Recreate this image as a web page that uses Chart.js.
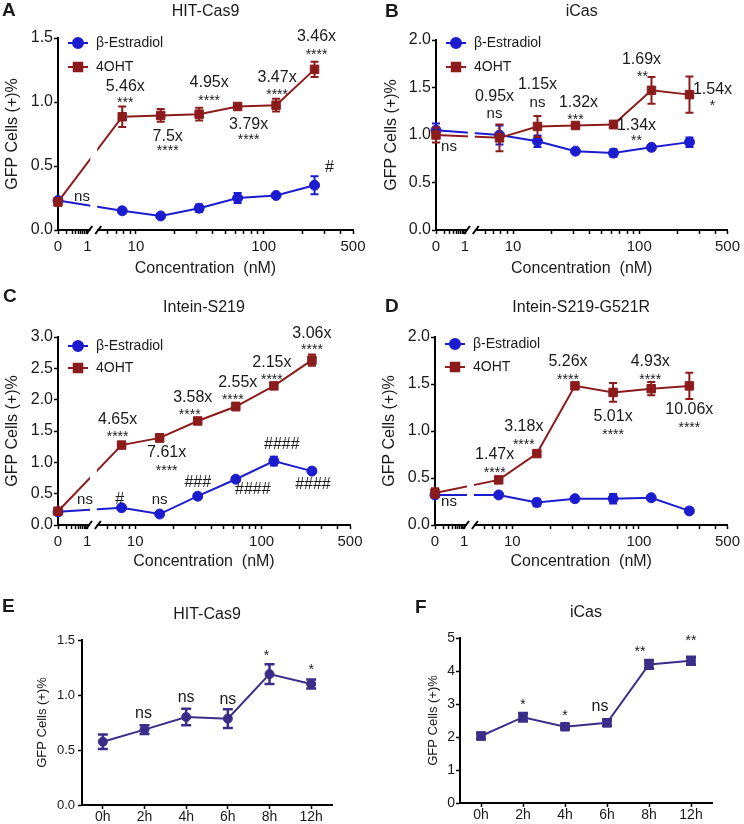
<!DOCTYPE html>
<html>
<head>
<meta charset="utf-8">
<script src="https://cdn.jsdelivr.net/npm/chart.js@4.4.0/dist/chart.umd.min.js"></script>
<style>
  html, body { margin: 0; padding: 0; background: #fff; }
  #page { position: relative; width: 744px; height: 824px; overflow: hidden; }
  canvas { position: absolute; }
</style>
</head>
<body>
<div id="page">
  <canvas id="chartA" width="372" height="280" style="left:0;top:0"></canvas>
  <canvas id="chartB" width="372" height="280" style="left:372px;top:0"></canvas>
  <canvas id="chartC" width="372" height="295" style="left:0;top:280px"></canvas>
  <canvas id="chartD" width="372" height="295" style="left:372px;top:280px"></canvas>
  <canvas id="chartE" width="372" height="249" style="left:0;top:575px"></canvas>
  <canvas id="chartF" width="372" height="249" style="left:372px;top:575px"></canvas>
</div>
<script>
// ---- data ----
var concentrations = [0, 7.8125, 15.625, 31.25, 62.5, 125, 250];
var timePoints = ['0h', '2h', '4h', '6h', '8h', '12h'];

var hitCas9Estradiol = [0.23, 0.15, 0.11, 0.17, 0.25, 0.27, 0.35];
var hitCas9EstradiolErr = [0.02, 0.01, 0.01, 0.03, 0.04, 0.01, 0.07];
var hitCas9OHT = [0.22, 0.885, 0.895, 0.905, 0.965, 0.975, 1.255];
var hitCas9OHTErr = [0.03, 0.08, 0.05, 0.05, 0.01, 0.05, 0.06];

var iCasEstradiol = [1.05, 1.00, 0.935, 0.83, 0.81, 0.87, 0.925];
var iCasEstradiolErr = [0.07, 0.10, 0.06, 0.02, 0.04, 0.01, 0.05];
var iCasOHT = [1.00, 0.97, 1.09, 1.10, 1.11, 1.47, 1.425];
var iCasOHTErr = [0.08, 0.14, 0.11, 0.01, 0.04, 0.14, 0.19];

var s219Estradiol = [0.21, 0.275, 0.175, 0.46, 0.73, 1.02, 0.86];
var s219EstradiolErr = [0.01, 0.01, 0.01, 0.02, 0.02, 0.07, 0.02];
var s219OHT = [0.22, 1.275, 1.39, 1.66, 1.89, 2.22, 2.63];
var s219OHTErr = [0.02, 0.02, 0.06, 0.02, 0.06, 0.04, 0.09];

var g521rEstradiol = [0.32, 0.32, 0.24, 0.28, 0.28, 0.29, 0.15];
var g521rEstradiolErr = [0.01, 0.01, 0.04, 0.01, 0.05, 0.01, 0.01];
var g521rOHT = [0.34, 0.48, 0.76, 1.48, 1.41, 1.45, 1.48];
var g521rOHTErr = [0.05, 0.01, 0.01, 0.01, 0.10, 0.07, 0.14];

var hitCas9Time = [0.575, 0.685, 0.80, 0.785, 1.19, 1.10];
var hitCas9TimeErr = [0.065, 0.04, 0.075, 0.085, 0.09, 0.04];
var iCasTime = [2.03, 2.60, 2.31, 2.43, 4.20, 4.31];
var iCasTimeErr = [0.10, 0.13, 0.05, 0.10, 0.13, 0.12];

// tick labels of the broken concentration axis
var concTickValues = [0, 0.2, 0.3, 0.4, 0.5, 0.6, 0.7, 0.8, 0.9, 1, 6, 7, 8, 9, 10,
  20, 30, 40, 50, 60, 70, 80, 90, 100, 200, 300, 400, 500];
var concTickLabels = { 0: '0', 1: '1', 10: '10', 100: '100', 500: '500' };

// significance labels: [x, pixel shift, y, text]
var notesA = [
  [0, 24, 0.26, 'ns'],
  [7.8125, 3, 1.117, '5.46x'], [7.8125, 3, 1.016, '***'],
  [15.625, 7, 0.727, '7.5x'], [15.625, 7, 0.64, '****'],
  [31.25, 10, 1.148, '4.95x'], [31.25, 10, 1.03, '****'],
  [62.5, 11, 0.82, '3.79x'], [62.5, 11, 0.727, '****'],
  [125, 1, 1.19, '3.47x'], [125, 1, 1.078, '****'],
  [250, 2, 1.508, '3.46x'], [250, 2, 1.39, '****'],
  [250, 15, 0.49, '#']
];
var notesB = [
  [0, 13, 0.874, 'ns'],
  [7.8125, -5, 1.40, '0.95x'], [7.8125, -5, 1.22, 'ns'],
  [15.625, 0, 1.526, '1.15x'], [15.625, 0, 1.337, 'ns'],
  [31.25, 3, 1.337, '1.32x'], [31.25, 0, 1.19, '***'],
  [62.5, 23, 1.095, '1.34x'], [62.5, 23, 0.968, '**'],
  [125, -10, 1.79, '1.69x'], [125, -9, 1.642, '**'],
  [250, 23, 1.474, '1.54x'], [250, 23, 1.337, '*']
];
var notesC = [
  [0, 27, 0.40, 'ns'], [7.8125, -2, 0.40, '#'], [15.625, 0, 0.40, 'ns'],
  [7.8125, -4, 1.675, '4.65x'], [7.8125, -4, 1.45, '****'],
  [15.625, 7, 1.149, '7.61x'], [15.625, 7, 0.91, '****'],
  [31.25, -5, 2.04, '3.58x'], [31.25, -8, 1.80, '****'],
  [31.25, 0, 0.67, '###'],
  [62.5, 2, 2.28, '2.55x'], [62.5, -3, 2.04, '****'],
  [62.5, 17, 0.56, '####'],
  [125, -2, 2.585, '2.15x'], [125, -2, 2.36, '****'],
  [125, 8, 1.277, '####'],
  [250, 0, 3.06, '3.06x'], [250, 0, 2.84, '****'],
  [250, 1, 0.64, '####']
];
var notesD = [
  [0, 14, 0.245, 'ns'],
  [7.8125, -4, 0.745, '1.47x'], [7.8125, -4, 0.585, '****'],
  [15.625, -13, 1.043, '3.18x'], [15.625, -13, 0.883, '****'],
  [31.25, -7, 1.734, '5.26x'], [31.25, -7, 1.574, '****'],
  [62.5, 0, 1.149, '5.01x'], [62.5, 0, 0.989, '****'],
  [125, -1, 1.734, '4.93x'], [125, -1, 1.574, '****'],
  [250, 0, 1.223, '10.06x'], [250, 0, 1.064, '****']
];
var notesE = [[1, -1, 0.827, 'ns'], [2, 0, 0.98, 'ns'], [3, 0, 0.955, 'ns'], [4, -3, 1.38, '*'], [5, 0, 1.255, '*']];
var notesF = [[1, 0, 3.06, '*'], [2, 0, 2.73, '*'], [3, -7, 2.91, 'ns'], [4, -9, 4.67, '**'], [5, 0, 5.0, '**']];

// ---- look ----
var FONT = '"Liberation Sans", Arial, Helvetica, sans-serif';
var INK = '#1a1a1a';
var BLUE = '#1c1ccf';
var RED = '#8c1c1c';
var INDIGO = '#3a2e88';
Chart.defaults.font.family = FONT;
Chart.defaults.color = INK;

// broken axis: 0..1 squeezed at the left, then log10 from ~5 nM on
var SEG1_END = 0.23, BREAK_A = 0.245, BREAK_B = 0.315, LOG_SHIFT = 0.39;
function concToAxis(c) {
  if (c <= 0) return 0;
  if (c <= 1) return SEG1_END * (1 + Math.log10(c));
  return Math.log10(c) - LOG_SHIFT;
}

function noteFont(text, nsSize) {
  if (/^\*+$/.test(text)) return { size: 14, dy: 3 };
  if (text === 'ns') return { size: nsSize, dy: 0 };
  return { size: 16, dy: 0 };
}

var panelDecor = {
  id: 'panelDecor',
  afterDatasetDraw: function(chart, args, opts) {
    var ds = chart.data.datasets[args.index];
    if (!ds.errors) return;
    var ctx = chart.ctx, ys = chart.scales.y, cap = opts.cap || 4;
    ctx.save();
    ctx.strokeStyle = ds.borderColor;
    ctx.lineWidth = opts.errWidth || 2;
    args.meta.data.forEach(function(pt, i) {
      var raw = ds.data[i];
      var v = typeof raw === 'object' ? raw.y : raw;
      var top = ys.getPixelForValue(v + ds.errors[i]);
      var bot = ys.getPixelForValue(v - ds.errors[i]);
      ctx.beginPath();
      ctx.moveTo(pt.x, top); ctx.lineTo(pt.x, bot);
      ctx.moveTo(pt.x - cap, top); ctx.lineTo(pt.x + cap, top);
      ctx.moveTo(pt.x - cap, bot); ctx.lineTo(pt.x + cap, bot);
      ctx.stroke();
    });
    ctx.restore();
  },
  afterDatasetsDraw: function(chart, args, opts) {
    if (!opts.axisBreak) return;
    var ctx = chart.ctx, xs = chart.scales.x, area = chart.chartArea;
    var x1 = xs.getPixelForValue(BREAK_A), x2 = xs.getPixelForValue(BREAK_B);
    ctx.save();
    ctx.fillStyle = '#fff';
    ctx.fillRect(x1 + 1, area.top - 2, x2 - x1 - 2, area.bottom - area.top + 5);
    ctx.strokeStyle = '#000';
    ctx.lineWidth = 2;
    [x1, x2].forEach(function(x) {
      ctx.beginPath();
      ctx.moveTo(x - 3, area.bottom + 4);
      ctx.lineTo(x + 3, area.bottom - 4);
      ctx.stroke();
    });
    ctx.restore();
  },
  afterDraw: function(chart, args, opts) {
    var ctx = chart.ctx, area = chart.chartArea, xs = chart.scales.x, ys = chart.scales.y;
    ctx.save();
    ctx.fillStyle = INK;
    ctx.textBaseline = 'middle';
    // panel letter
    ctx.font = 'bold 19px ' + FONT;
    ctx.textAlign = 'left';
    ctx.fillText(opts.letter, opts.letterPos[0], opts.letterPos[1]);
    // panel title
    ctx.font = '16px ' + FONT;
    ctx.textAlign = 'center';
    ctx.fillText(opts.title, (area.left + area.right) / 2, opts.titleY);
    // legend
    if (opts.legendRows) {
      chart.data.datasets.forEach(function(ds, i) {
        var y = opts.legendRows[i], x0 = area.left + 10, x1 = area.left + 30;
        ctx.strokeStyle = ds.borderColor;
        ctx.fillStyle = ds.borderColor;
        ctx.lineWidth = 2;
        ctx.beginPath(); ctx.moveTo(x0, y); ctx.lineTo(x1, y); ctx.stroke();
        Chart.helpers.drawPoint(ctx, { pointStyle: ds.pointStyle, radius: ds.pointRadius, borderWidth: 1 }, (x0 + x1) / 2, y);
        ctx.fillStyle = INK;
        ctx.font = '14px ' + FONT;
        ctx.textAlign = 'left';
        ctx.fillText(ds.label, area.left + 38, y);
      });
    }
    // significance labels
    ctx.fillStyle = INK;
    ctx.textAlign = 'center';
    (opts.notes || []).forEach(function(n) {
      var f = noteFont(n[3], opts.nsSize || 15);
      ctx.font = f.size + 'px ' + FONT;
      ctx.fillText(n[3], xs.getPixelForValue(n[0]) + n[1], ys.getPixelForValue(n[2]) + f.dy);
    });
    ctx.restore();
  }
};

function axisStyle() {
  return {
    grid: { drawOnChartArea: false, drawTicks: true, tickLength: 4, tickWidth: 1.5, tickColor: '#000', color: '#000' },
    border: { display: true, color: '#000', width: 2 }
  };
}

function series(label, values, errors, color, pointStyle, radius, order) {
  return { label: label, values: values, errors: errors, color: color, pointStyle: pointStyle, radius: radius, order: order };
}

function concentrationChart(id, p) {
  var canvas = document.getElementById(id);
  var W = canvas.width, H = canvas.height, a = p.area;
  var xAxis = axisStyle(), yAxis = axisStyle();
  return new Chart(canvas, {
    type: 'line',
    data: {
      datasets: p.series.map(function(s) {
        return {
          label: s.label,
          data: concentrations.map(function(c, i) { return { x: concToAxis(c), y: s.values[i] }; }),
          errors: s.errors,
          borderColor: s.color, backgroundColor: s.color,
          pointBackgroundColor: s.color, pointBorderColor: s.color,
          borderWidth: 2, tension: 0,
          pointStyle: s.pointStyle, pointRadius: s.radius, pointHoverRadius: s.radius, pointBorderWidth: 1,
          order: s.order, clip: false
        };
      })
    },
    options: {
      responsive: false, devicePixelRatio: 1, animation: false, events: [],
      layout: { padding: { top: a.top, right: W - a.right, left: 0, bottom: 0 } },
      scales: {
        x: {
          type: 'linear', min: 0, max: concToAxis(500),
          afterFit: function(sc) { sc.height = H - a.bottom; },
          afterBuildTicks: function(sc) {
            sc.ticks = concTickValues.map(function(c) { return { value: concToAxis(c) }; });
          },
          ticks: {
            autoSkip: false, maxRotation: 0, padding: 4, color: INK, font: { size: 15 },
            callback: function(v, i) { return concTickLabels[concTickValues[i]] || ''; }
          },
          grid: xAxis.grid, border: xAxis.border,
          title: { display: true, text: 'Concentration  (nM)', color: INK, font: { size: 16 }, padding: { top: 0, bottom: p.xTitlePad } }
        },
        y: {
          min: 0, max: p.yMax,
          afterFit: function(sc) { sc.width = a.left; },
          ticks: { stepSize: p.yStep, padding: 1, color: INK, font: { size: 16 },
            callback: function(v) { return v.toFixed(1); } },
          grid: yAxis.grid, border: yAxis.border,
          title: { display: true, text: 'GFP Cells (+)%', color: INK, font: { size: 16 }, padding: { top: p.yTitlePad, bottom: 0 } }
        }
      },
      plugins: {
        legend: { display: false },
        tooltip: { enabled: false },
        panelDecor: {
          letter: p.letter, letterPos: p.letterPos, title: p.title, titleY: p.titleY,
          legendRows: p.legendRows, axisBreak: true, cap: 4, errWidth: 2, nsSize: 15,
          notes: p.notes.map(function(n) { return [concToAxis(n[0]), n[1], n[2], n[3]]; })
        }
      }
    },
    plugins: [panelDecor]
  });
}

function timeChart(id, p) {
  var canvas = document.getElementById(id);
  var W = canvas.width, H = canvas.height, a = p.area;
  var xAxis = axisStyle(), yAxis = axisStyle();
  return new Chart(canvas, {
    type: 'line',
    data: {
      labels: timePoints,
      datasets: [{
        label: p.title,
        data: p.values,
        errors: p.errors,
        borderColor: INDIGO, backgroundColor: INDIGO,
        pointBackgroundColor: INDIGO, pointBorderColor: INDIGO,
        borderWidth: 2, tension: 0,
        pointStyle: p.pointStyle, pointRadius: p.radius, pointHoverRadius: p.radius, pointBorderWidth: 1,
        clip: false
      }]
    },
    options: {
      responsive: false, devicePixelRatio: 1, animation: false, events: [],
      layout: { padding: { top: a.top, right: W - a.right, left: 0, bottom: 0 } },
      scales: {
        x: {
          type: 'category', offset: true,
          afterFit: function(sc) { sc.height = H - a.bottom; },
          ticks: { autoSkip: false, maxRotation: 0, padding: 0, color: INK, font: { size: 14 } },
          grid: Object.assign({}, xAxis.grid, { offset: false }), border: xAxis.border
        },
        y: {
          min: 0, max: p.yMax,
          afterFit: function(sc) { sc.width = a.left; },
          ticks: { stepSize: p.yStep, padding: p.yTickPad, color: INK, font: { size: p.yTickSize },
            callback: function(v) { return p.yDecimals ? v.toFixed(p.yDecimals) : String(v); } },
          grid: yAxis.grid, border: yAxis.border,
          title: { display: true, text: 'GFP Cells (+)%', color: INK, font: { size: 13 }, padding: { top: p.yTitlePad, bottom: 0 } }
        }
      },
      plugins: {
        legend: { display: false },
        tooltip: { enabled: false },
        panelDecor: {
          letter: p.letter, letterPos: p.letterPos, title: p.title, titleY: p.titleY,
          cap: 5, errWidth: 2.5, nsSize: 16, notes: p.notes
        }
      }
    },
    plugins: [panelDecor]
  });
}

concentrationChart('chartA', {
  letter: 'A', letterPos: [2, 11], title: 'HIT-Cas9', titleY: 12,
  area: { left: 58, right: 353, top: 38, bottom: 230 },
  yMax: 1.5, yStep: 0.5, yTitlePad: 3, xTitlePad: 2, legendRows: [43, 67],
  series: [
    series('β-Estradiol', hitCas9Estradiol, hitCas9EstradiolErr, BLUE, 'circle', 5, 1),
    series('4OHT', hitCas9OHT, hitCas9OHTErr, RED, 'rect', 6, 0)
  ],
  notes: notesA
});

concentrationChart('chartB', {
  letter: 'B', letterPos: [13, 12], title: 'iCas', titleY: 12,
  area: { left: 64, right: 358, top: 40, bottom: 230 },
  yMax: 2.0, yStep: 0.5, yTitlePad: 10, xTitlePad: 2, legendRows: [43, 67],
  series: [
    series('β-Estradiol', iCasEstradiol, iCasEstradiolErr, BLUE, 'circle', 5, 1),
    series('4OHT', iCasOHT, iCasOHTErr, RED, 'rect', 6, 0)
  ],
  notes: notesB
});

concentrationChart('chartC', {
  letter: 'C', letterPos: [3, 17], title: 'Intein-S219', titleY: 28,
  area: { left: 58, right: 350, top: 57, bottom: 245 },
  yMax: 3.0, yStep: 0.5, yTitlePad: 3, xTitlePad: 4, legendRows: [66, 88],
  series: [
    series('β-Estradiol', s219Estradiol, s219EstradiolErr, BLUE, 'circle', 5, 1),
    series('4OHT', s219OHT, s219OHTErr, RED, 'rect', 6, 0)
  ],
  notes: notesC
});

concentrationChart('chartD', {
  letter: 'D', letterPos: [13, 27], title: 'Intein-S219-G521R', titleY: 28,
  area: { left: 63, right: 358, top: 57, bottom: 245 },
  yMax: 2.0, yStep: 0.5, yTitlePad: 8, xTitlePad: 4, legendRows: [64, 87],
  series: [
    series('β-Estradiol', g521rEstradiol, g521rEstradiolErr, BLUE, 'circle', 5, 1),
    series('4OHT', g521rOHT, g521rOHTErr, RED, 'rect', 6, 0)
  ],
  notes: notesD
});

timeChart('chartE', {
  letter: 'E', letterPos: [2, 32], title: 'HIT-Cas9', titleY: 40,
  area: { left: 82, right: 332, top: 65, bottom: 230 },
  yMax: 1.5, yStep: 0.5, yDecimals: 1, yTickSize: 13, yTickPad: 3, yTitlePad: 35,
  values: hitCas9Time, errors: hitCas9TimeErr, pointStyle: 'circle', radius: 4.5,
  notes: notesE
});

timeChart('chartF', {
  letter: 'F', letterPos: [43, 33], title: 'iCas', titleY: 38,
  area: { left: 88, right: 340, top: 63, bottom: 228 },
  yMax: 5, yStep: 1, yDecimals: 0, yTickSize: 14, yTickPad: 1, yTitlePad: 54,
  values: iCasTime, errors: iCasTimeErr, pointStyle: 'rect', radius: 6,
  notes: notesF
});
</script>
</body>
</html>
